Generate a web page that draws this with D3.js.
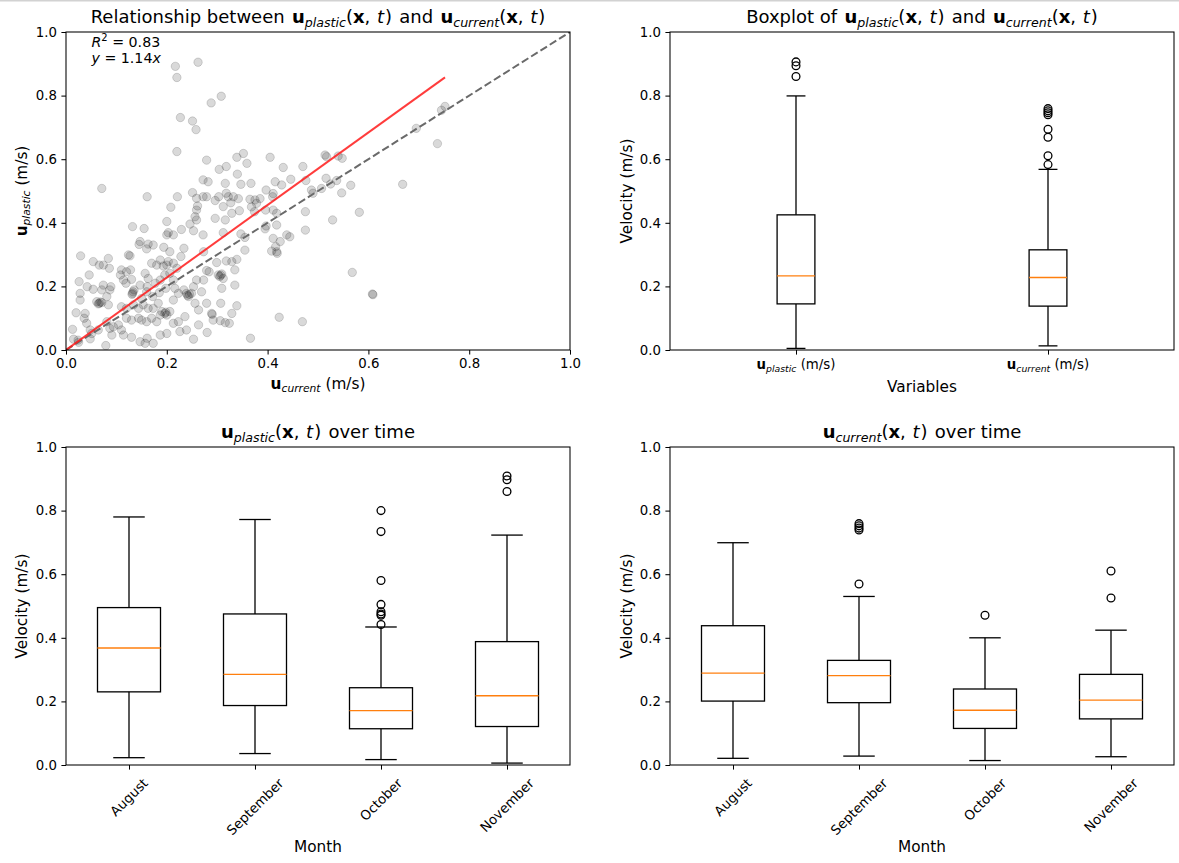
<!DOCTYPE html>
<html><head><meta charset="utf-8">
<script src="https://cdn.jsdelivr.net/npm/d3@7"></script>
<style>
body{margin:0;background:#fff;}
svg{display:block;}
text{font-family:"DejaVu Sans",sans-serif;fill:#000;white-space:pre;}
</style>
</head><body>
<svg id="chart" width="1179" height="863"></svg>
<script>
// ---------- DATA ----------
// scatter: [u_current, u_plastic]
const scatterPoints = [
[0.029,0.296],[0.054,0.278],[0.066,0.267],[0.074,0.267],[0.084,0.288],[0.086,0.257],[0.127,0.296],[0.228,0.294],
[0.046,0.236],[0.026,0.215],[0.042,0.199],[0.054,0.191],[0.071,0.189],[0.074,0.204],[0.089,0.199],[0.087,0.189],
[0.110,0.252],[0.108,0.236],[0.120,0.246],[0.128,0.252],[0.114,0.220],[0.119,0.210],[0.130,0.222],[0.135,0.189],
[0.132,0.178],[0.147,0.204],[0.157,0.241],[0.163,0.225],[0.170,0.273],[0.180,0.267],[0.187,0.283],[0.193,0.264],
[0.200,0.267],[0.203,0.278],[0.213,0.273],[0.220,0.257],[0.206,0.241],[0.196,0.236],[0.187,0.220],[0.177,0.210],
[0.161,0.199],[0.160,0.183],[0.150,0.162],[0.172,0.168],[0.185,0.180],[0.198,0.194],[0.213,0.220],[0.216,0.194],
[0.223,0.178],[0.234,0.189],[0.239,0.178],[0.243,0.168],[0.249,0.178],[0.253,0.199],[0.259,0.220],[0.263,0.126],
[0.256,0.147],[0.028,0.178],[0.028,0.157],[0.020,0.117],[0.038,0.115],[0.061,0.152],[0.066,0.147],[0.071,0.149],
[0.081,0.168],[0.084,0.142],[0.110,0.136],[0.120,0.131],[0.134,0.142],[0.144,0.131],[0.153,0.142],[0.163,0.131],
[0.173,0.131],[0.183,0.147],[0.190,0.121],[0.196,0.115],[0.200,0.110],[0.206,0.121],[0.213,0.157],[0.187,0.110],
[0.036,0.100],[0.041,0.084],[0.013,0.065],[0.015,0.034],[0.024,0.031],[0.048,0.063],[0.051,0.052],[0.064,0.063],
[0.081,0.089],[0.087,0.068],[0.091,0.047],[0.094,0.073],[0.104,0.079],[0.110,0.063],[0.114,0.047],[0.120,0.100],
[0.130,0.094],[0.144,0.100],[0.150,0.094],[0.160,0.089],[0.170,0.100],[0.180,0.089],[0.130,0.040],[0.147,0.026],
[0.157,0.021],[0.161,0.037],[0.173,0.021],[0.187,0.047],[0.200,0.052],[0.213,0.084],[0.223,0.089],[0.226,0.058],
[0.236,0.105],[0.239,0.063],[0.253,0.034],[0.263,0.079],[0.079,0.014],[0.068,0.151],[0.064,0.145],[0.245,0.175],
[0.241,0.172],[0.198,0.119],[0.133,0.183],[0.131,0.175],[0.025,0.024],[0.048,0.035],
[0.273,0.309],[0.299,0.275],[0.318,0.280],[0.329,0.278],[0.339,0.285],[0.335,0.252],[0.279,0.250],[0.284,0.246],
[0.302,0.236],[0.309,0.239],[0.312,0.225],[0.305,0.231],[0.273,0.220],[0.335,0.204],[0.309,0.194],[0.269,0.183],
[0.279,0.147],[0.307,0.147],[0.339,0.139],[0.289,0.115],[0.292,0.094],[0.306,0.092],[0.316,0.086],[0.324,0.084],
[0.329,0.115],[0.280,0.055],[0.366,0.037],[0.423,0.103],[0.469,0.089],[0.355,0.314],[0.408,0.311],[0.419,0.304],
[0.290,0.112],[0.307,0.235],
[0.220,0.624],[0.071,0.508],[0.161,0.482],[0.221,0.482],[0.251,0.495],[0.259,0.477],[0.272,0.535],[0.272,0.482],
[0.208,0.449],[0.261,0.453],[0.259,0.440],[0.256,0.419],[0.259,0.409],[0.200,0.404],[0.246,0.396],[0.253,0.375],
[0.272,0.362],[0.229,0.379],[0.132,0.388],[0.155,0.382],[0.200,0.362],[0.203,0.369],[0.213,0.362],[0.147,0.341],
[0.145,0.332],[0.163,0.333],[0.160,0.318],[0.173,0.330],[0.194,0.323],[0.234,0.320],[0.124,0.299],[0.206,0.309],
[0.352,0.618],[0.339,0.606],[0.405,0.606],[0.514,0.613],[0.517,0.608],[0.540,0.610],[0.318,0.577],[0.304,0.568],
[0.359,0.587],[0.431,0.574],[0.470,0.577],[0.340,0.553],[0.282,0.529],[0.316,0.524],[0.347,0.521],[0.367,0.524],
[0.415,0.529],[0.428,0.519],[0.446,0.537],[0.476,0.533],[0.516,0.540],[0.525,0.522],[0.537,0.533],[0.279,0.482],
[0.296,0.470],[0.303,0.482],[0.318,0.493],[0.322,0.482],[0.327,0.463],[0.332,0.482],[0.342,0.476],[0.312,0.451],
[0.329,0.430],[0.344,0.438],[0.365,0.474],[0.375,0.472],[0.378,0.461],[0.368,0.450],[0.385,0.476],[0.374,0.435],
[0.397,0.503],[0.411,0.492],[0.410,0.482],[0.396,0.440],[0.411,0.440],[0.418,0.430],[0.296,0.414],[0.316,0.409],
[0.312,0.369],[0.347,0.365],[0.355,0.354],[0.397,0.390],[0.395,0.381],[0.418,0.393],[0.475,0.435],[0.475,0.377],
[0.529,0.409],[0.438,0.362],[0.444,0.356],[0.411,0.351],[0.416,0.325],[0.425,0.341],[0.418,0.309],[0.490,0.493],
[0.487,0.503],[0.279,0.597],
[0.217,0.892],[0.220,0.857],[0.262,0.905],[0.227,0.731],[0.251,0.720],[0.258,0.693],[0.288,0.777],[0.308,0.798],
[0.752,0.766],[0.745,0.754],[0.695,0.697],[0.737,0.649],[0.668,0.521],[0.565,0.518],[0.582,0.433],[0.568,0.244],
[0.608,0.176],[0.609,0.174],[0.547,0.494],[0.507,0.508],[0.548,0.603]
];
const fitSlope = 1.14;
const fitR2 = "0.83";

const overallLabels = ["plastic", "current"];
const overallWhiskLo = [0.005, 0.013];
const overallQ1      = [0.145, 0.138];
const overallMedian  = [0.233, 0.228];
const overallQ3      = [0.425, 0.315];
const overallWhiskHi = [0.799, 0.568];
const overallOutliers = [[0.906, 0.894, 0.860], [0.759, 0.752, 0.746, 0.740, 0.694, 0.669, 0.611, 0.583]];

const months = ["August", "September", "October", "November"];
const plasticWhiskLo = [0.023, 0.036, 0.017, 0.006];
const plasticQ1      = [0.230, 0.187, 0.114, 0.121];
const plasticMedian  = [0.368, 0.285, 0.171, 0.218];
const plasticQ3      = [0.495, 0.475, 0.243, 0.388];
const plasticWhiskHi = [0.780, 0.772, 0.434, 0.723];
const plasticOutliers = [[], [], [0.800, 0.734, 0.580, 0.505, 0.482, 0.475, 0.471, 0.442], [0.909, 0.897, 0.860]];

const currentWhiskLo = [0.021, 0.028, 0.014, 0.026];
const currentQ1      = [0.201, 0.196, 0.115, 0.145];
const currentMedian  = [0.289, 0.281, 0.172, 0.204];
const currentQ3      = [0.438, 0.329, 0.239, 0.285];
const currentWhiskHi = [0.699, 0.530, 0.400, 0.424];
const currentOutliers = [[], [0.759, 0.752, 0.745, 0.739, 0.569], [0.471], [0.610, 0.525]];

const yTicks = [0, 0.2, 0.4, 0.6, 0.8, 1.0];
const xTicksScatter = [0, 0.2, 0.4, 0.6, 0.8, 1.0];

// ---------- DRAWING ----------
const svg = d3.select("#chart");
svg.append("rect").attr("x", 0).attr("y", 0).attr("width", 1179).attr("height", 1.5).attr("fill", "#d2d2d2");

const TICK_FS = 13.3, LABEL_FS = 15.3, TITLE_FS = 18, NOTE_FS = 14.2;
const AW = 504, AH = 318;
const GAP = 1.5, IGAP = 1;

function rich(sel, parts, size) {
  sel.attr("font-size", size);
  let cur = 0;
  parts.forEach(p => {
    const off = p.sub ? size * 0.2 : p.sup ? -size * 0.4 : 0;
    const ts = sel.append("tspan").text(p.t);
    if (off !== cur) { ts.attr("dy", off - cur); cur = off; }
    if (p.dx) ts.attr("dx", p.dx);
    if (p.sub || p.sup) ts.attr("font-size", size * 0.7);
    if (p.b) ts.attr("font-weight", "bold");
    if (p.i) ts.attr("font-style", "italic");
  });
  return sel;
}
const U = (name, dx) => [{t: "u", b: 1, dx: dx || 0}, {t: name, i: 1, sub: 1}];
const XT = [{t: "("}, {t: "x", b: 1}, {t: ", "}, {t: "t", i: 1, dx: IGAP}, {t: ")", dx: IGAP}];

function panel(x0, y0) {
  return svg.append("g").attr("transform", `translate(${x0},${y0})`);
}
function yAxis(g, y) {
  const ax = g.append("g").call(d3.axisLeft(y).tickValues(yTicks).tickFormat(d3.format(".1f")).tickSize(4.6).tickPadding(4.4));
  ax.select(".domain").remove();
  ax.selectAll("line").attr("stroke-width", 1.05);
  ax.selectAll("text").attr("font-size", TICK_FS).attr("font-family", "DejaVu Sans");
}
function frame(g) {
  g.append("rect").attr("width", AW).attr("height", AH).attr("fill", "none").attr("stroke", "#000").attr("stroke-width", 1.05);
}
function title(g, parts, yb) {
  rich(g.append("text").attr("x", AW / 2).attr("y", yb).attr("text-anchor", "middle"), parts, TITLE_FS);
}
function yLabel(g, parts, xc) {
  rich(g.append("text").attr("transform", `translate(${xc},${AH / 2}) rotate(-90)`).attr("text-anchor", "middle").attr("dy", "0.35em"), parts, LABEL_FS);
}

// ===== Top-left scatter =====
{
  const g = panel(66, 32);
  const x = d3.scaleLinear().domain([0, 1]).range([0, AW]);
  const y = d3.scaleLinear().domain([0, 1]).range([AH, 0]);
  svg.append("defs").append("clipPath").attr("id", "clipTL").append("rect").attr("width", AW).attr("height", AH);
  const pg = g.append("g").attr("clip-path", "url(#clipTL)");
  pg.selectAll("circle").data(scatterPoints).join("circle")
    .attr("cx", d => x(d[0])).attr("cy", d => y(d[1])).attr("r", 4.2)
    .attr("fill", "#000").attr("fill-opacity", 0.15)
    .attr("stroke", "#000").attr("stroke-opacity", 0.15).attr("stroke-width", 1);
  const line = d3.line().x(d => x(d[0])).y(d => y(d[1]));
  pg.append("path").attr("d", line([[0, 0], [1, 1]])).attr("fill", "none")
    .attr("stroke", "#6a6a6a").attr("stroke-width", 2).attr("stroke-dasharray", "7.7,3.3");
  const xmax = d3.max(scatterPoints, d => d[0]);
  pg.append("path").attr("d", line([[0, 0], [xmax, fitSlope * xmax]])).attr("fill", "none")
    .attr("stroke", "#ff1a1a").attr("stroke-opacity", 0.85).attr("stroke-width", 2);
  yAxis(g, y);
  const ax = g.append("g").attr("transform", `translate(0,${AH})`)
    .call(d3.axisBottom(x).tickValues(xTicksScatter).tickFormat(d3.format(".1f")).tickSize(4.6).tickPadding(4.4));
  ax.select(".domain").remove();
  ax.selectAll("line").attr("stroke-width", 1.05);
  ax.selectAll("text").attr("font-size", TICK_FS).attr("font-family", "DejaVu Sans");
  frame(g);
  title(g, [{t: "Relationship between "}, ...U("plastic", GAP), ...XT, {t: " and ", dx: GAP}, ...U("current", GAP), ...XT], -9);
  rich(g.append("text").attr("x", AW / 2).attr("y", 357).attr("text-anchor", "middle"), [...U("current"), {t: " (m/s)"}], LABEL_FS);
  yLabel(g, [...U("plastic"), {t: " (m/s)"}], -44);
  rich(g.append("text").attr("x", 25.5).attr("y", 14.8), [{t: "R", i: 1}, {t: "2", sup: 1}, {t: " = " + fitR2}], NOTE_FS);
  rich(g.append("text").attr("x", 25.5).attr("y", 30.8), [{t: "y", i: 1}, {t: " = " + fitSlope.toFixed(2)}, {t: "x", i: 1}], NOTE_FS);
}

function boxPanel(g, n, lo, q1, med, q3, hi, outs, width) {
  const x = d3.scaleLinear().domain([0.5, n + 0.5]).range([0, AW]);
  const y = d3.scaleLinear().domain([0, 1]).range([AH, 0]);
  const hw = x(1 + width / 2) - x(1);
  for (let i = 0; i < n; i++) {
    const cx = x(i + 1);
    const bg = g.append("g").attr("stroke", "#000").attr("stroke-width", 1.3).attr("fill", "none");
    bg.append("line").attr("x1", cx).attr("x2", cx).attr("y1", y(q1[i])).attr("y2", y(lo[i]));
    bg.append("line").attr("x1", cx).attr("x2", cx).attr("y1", y(q3[i])).attr("y2", y(hi[i]));
    bg.append("line").attr("x1", cx - hw / 2).attr("x2", cx + hw / 2).attr("y1", y(lo[i])).attr("y2", y(lo[i]));
    bg.append("line").attr("x1", cx - hw / 2).attr("x2", cx + hw / 2).attr("y1", y(hi[i])).attr("y2", y(hi[i]));
    bg.append("rect").attr("x", cx - hw).attr("width", 2 * hw).attr("y", y(q3[i])).attr("height", y(q1[i]) - y(q3[i]));
    g.append("line").attr("x1", cx - hw).attr("x2", cx + hw).attr("y1", y(med[i])).attr("y2", y(med[i]))
      .attr("stroke", "#ff7f0e").attr("stroke-width", 1.4);
    g.selectAll(null).data(outs[i]).join("circle").attr("cx", cx).attr("cy", d => y(d)).attr("r", 3.9)
      .attr("fill", "none").attr("stroke", "#000").attr("stroke-width", 1.3);
  }
  yAxis(g, y);
  const ax = g.append("g").attr("transform", `translate(0,${AH})`)
    .call(d3.axisBottom(x).tickValues(d3.range(1, n + 1)).tickFormat("").tickSize(4.6));
  ax.select(".domain").remove();
  ax.selectAll("line").attr("stroke-width", 1.05);
  frame(g);
  return x;
}

// ===== Top-right overall boxplot =====
{
  const g = panel(670, 32);
  const x = boxPanel(g, 2, overallWhiskLo, overallQ1, overallMedian, overallQ3, overallWhiskHi, overallOutliers, 0.15);
  overallLabels.forEach((lab, i) => {
    rich(g.append("text").attr("x", x(i + 1)).attr("y", 337).attr("text-anchor", "middle"), [...U(lab), {t: " (m/s)"}], TICK_FS);
  });
  title(g, [{t: "Boxplot of "}, ...U("plastic", GAP), ...XT, {t: " and ", dx: GAP}, ...U("current", GAP), ...XT], -9);
  g.append("text").attr("x", AW / 2).attr("y", 360).attr("text-anchor", "middle").attr("font-size", LABEL_FS).text("Variables");
  yLabel(g, [{t: "Velocity (m/s)"}], -43.5);
}

function monthLabels(g, x) {
  months.forEach((m, i) => {
    const t = g.append("text").attr("text-anchor", "middle").attr("dy", "0.35em").attr("font-size", TICK_FS).text(m);
    const w = t.node().getComputedTextLength();
    const h = TICK_FS * 0.9;
    const cy = AH + 11.5 + (w + h) / (2 * Math.SQRT2);
    t.attr("transform", `translate(${x(i + 1)},${cy}) rotate(-45)`);
  });
  g.append("text").attr("x", AW / 2).attr("y", 405).attr("text-anchor", "middle").attr("font-size", LABEL_FS).text("Month");
}

// ===== Bottom-left plastic over time =====
{
  const g = panel(66, 447);
  const x = boxPanel(g, 4, plasticWhiskLo, plasticQ1, plasticMedian, plasticQ3, plasticWhiskHi, plasticOutliers, 0.5);
  monthLabels(g, x);
  title(g, [...U("plastic"), ...XT, {t: " over time", dx: GAP}], -9);
  yLabel(g, [{t: "Velocity (m/s)"}], -44);
}
// ===== Bottom-right current over time =====
{
  const g = panel(670, 447);
  const x = boxPanel(g, 4, currentWhiskLo, currentQ1, currentMedian, currentQ3, currentWhiskHi, currentOutliers, 0.5);
  monthLabels(g, x);
  title(g, [...U("current"), ...XT, {t: " over time", dx: GAP}], -9);
  yLabel(g, [{t: "Velocity (m/s)"}], -43.5);
}
</script>
</body></html>
